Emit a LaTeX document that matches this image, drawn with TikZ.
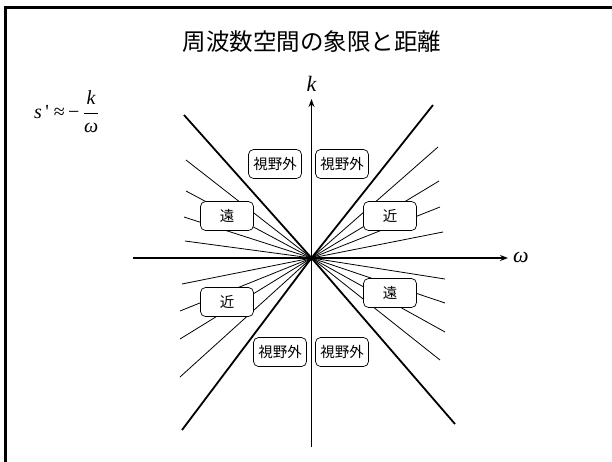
\documentclass[tikz,border=0pt]{standalone}
\usepackage{fontspec}
\setmainfont{Liberation Serif}
\newfontfamily\jp{Noto Sans CJK JP}
\usetikzlibrary{arrows.meta}
\begin{document}
\begin{tikzpicture}[x=1pt,y=-1pt,
  thinray/.style={line width=0.8pt},
  thickray/.style={line width=1.8pt},
  axis/.style={line width=1.3pt,-{Stealth[length=8pt,width=6pt]}},
  lbl/.style={draw,line width=0.7pt,rounded corners=5pt,fill=white,minimum width=53pt,minimum height=29pt,inner sep=0pt,font=\jp\fontsize{14.5}{16}\selectfont},
  var/.style={font=\fontsize{22}{24}\selectfont\itshape},
]
\useasboundingbox (0,0) rectangle (612,461);
\fill[white] (0,0) rectangle (612,461);
\draw[line width=3pt] (5.8,470) -- (5.8,7.5) -- (620,7.5);

\node (title) at (312,42) {\jp\fontsize{23.5}{26}\selectfont 周波数空間の象限と距離};

\node[anchor=west,inner sep=0pt] (formula) at (34,112) {\fontsize{20}{22}\selectfont\itshape s\upshape\,\textquotesingle\ ≈\,−\,$\displaystyle\frac{\mbox{\itshape k}}{\mbox{\itshape ω}}$};

% axes
\coordinate (O) at (311.5,258);
\coordinate (xl) at (133,258);
\coordinate (xr) at (508,258);
\coordinate (yb) at (311.5,447);
\coordinate (yt) at (311.5,99);

% rays
\coordinate (ul0) at (184,115);
\coordinate (lr0) at (455,424);
\coordinate (ur0) at (433,105);
\coordinate (ll0) at (182,430);

\coordinate (ul1) at (186,160);
\coordinate (ul2) at (186,191);
\coordinate (ul3) at (184,217);
\coordinate (ul4) at (185,241);
\coordinate (ur1) at (438,147);
\coordinate (ur2) at (439,181);
\coordinate (ur3) at (440,207);
\coordinate (ur4) at (443,232);
\coordinate (ll1) at (182,284);
\coordinate (ll2) at (180,311);
\coordinate (ll3) at (180,339);
\coordinate (ll4) at (180,377);
\coordinate (lr1) at (445,279);
\coordinate (lr2) at (445,303);
\coordinate (lr3) at (445,332);
\coordinate (lr4) at (440,360);

\foreach \e in {ul1,ul2,ul3,ul4,ur1,ur2,ur3,ur4,ll1,ll2,ll3,ll4,lr1,lr2,lr3,lr4}
  \draw[thinray] (O) -- (\e);
\foreach \e in {ul0,lr0,ur0,ll0}
  \draw[thickray] (O) -- (\e);

\draw[axis] (xl) -- (xr);
\draw[axis] (yb) -- (yt);
\node[var] (klabel) at (311.5,84) {k};
\node[var] (wlabel) at (521,257) {ω};

% labels
\node[lbl] (out1) at (275,164) {視野外};
\node[lbl] (out2) at (342,164) {視野外};
\node[lbl] (far1) at (227,216) {遠};
\node[lbl] (near1) at (390,216) {近};
\node[lbl] (near2) at (227,302) {近};
\node[lbl] (far2) at (390,293) {遠};
\node[lbl] (out3) at (280,352) {視野外};
\node[lbl] (out4) at (342,352) {視野外};
\end{tikzpicture}
\end{document}
